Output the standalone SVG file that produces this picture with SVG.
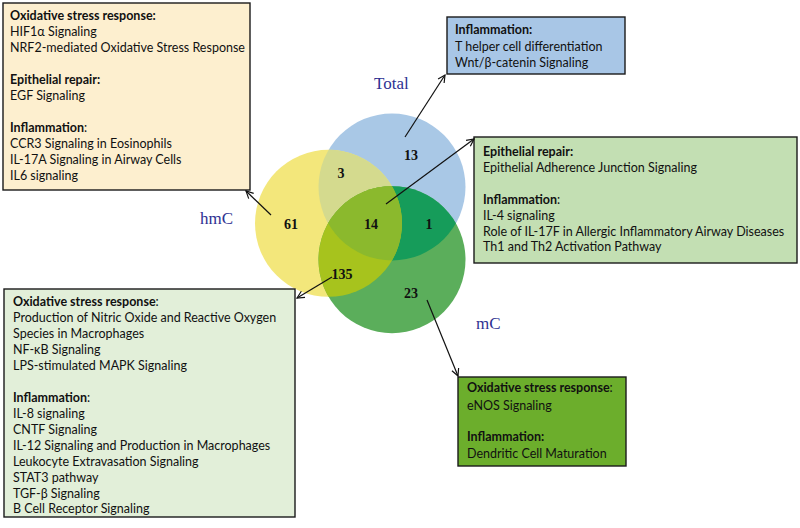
<svg xmlns="http://www.w3.org/2000/svg" width="800" height="528" viewBox="0 0 800 528">
<style>
.t{font-family:Lato,"Liberation Sans",sans-serif;font-size:12.5px;fill:#111}
.b{font-weight:bold}
.box{stroke:#1a1a1a;stroke-width:1.4}
.num{font-family:"Liberation Serif",serif;font-size:14px;font-weight:bold;fill:#111;text-anchor:middle}
.lab{font-family:"Liberation Serif",serif;font-size:17px;fill:#2e3192}
.con{stroke:#111;stroke-width:1.2;fill:none;marker-end:url(#ah)}
</style>
<defs>
<marker id="ah" viewBox="0 0 10 10" refX="9" refY="5" markerWidth="9" markerHeight="9" markerUnits="userSpaceOnUse" orient="auto">
<path d="M1,1 L9,5 L1,9" fill="none" stroke="#111" stroke-width="1.3"/>
</marker>
<clipPath id="cBlue"><circle cx="392" cy="187" r="73.5"/></clipPath>
<clipPath id="cYellow"><circle cx="328.5" cy="223.3" r="73.5"/></clipPath>
</defs>
<rect width="800" height="528" fill="#fff"/>

<g id="venn">
<circle cx="392" cy="187" r="73.5" fill="#a9c8e6"/>
<circle cx="328.5" cy="223.3" r="73.5" fill="#f3e77b"/>
<circle cx="392" cy="259.7" r="73.5" fill="#5bae5b"/>
<circle cx="328.5" cy="223.3" r="73.5" fill="#d4da8e" clip-path="url(#cBlue)"/>
<circle cx="392" cy="259.7" r="73.5" fill="#169c5a" clip-path="url(#cBlue)"/>
<circle cx="392" cy="259.7" r="73.5" fill="#a7c31d" clip-path="url(#cYellow)"/>
<g clip-path="url(#cBlue)"><circle cx="392" cy="259.7" r="73.5" fill="#8bb92d" clip-path="url(#cYellow)"/></g>
</g>

<g id="counts">
<text class="num" x="411" y="160">13</text>
<text class="num" x="341" y="178">3</text>
<text class="num" x="291" y="229">61</text>
<text class="num" x="371" y="229">14</text>
<text class="num" x="429" y="229">1</text>
<text class="num" x="342" y="279">135</text>
<text class="num" x="411" y="298">23</text>
</g>

<g id="set-labels">
<text class="lab" x="374" y="89">Total</text>
<text class="lab" x="200" y="224">hmC</text>
<text class="lab" x="476" y="329">mC</text>
</g>

<g id="box-hmC">
<rect class="box" x="3" y="3" width="247" height="187" fill="#fdefcf"/>
<text class="t" x="10"><tspan class="b" x="10" y="20">Oxidative stress response:</tspan><tspan x="10" y="36">HIF1α Signaling</tspan><tspan x="10" y="52">NRF2-mediated Oxidative Stress Response</tspan><tspan class="b" x="10" y="84">Epithelial repair:</tspan><tspan x="10" y="100">EGF Signaling</tspan><tspan class="b" x="10" y="132">Inflammation</tspan><tspan>:</tspan><tspan x="10" y="148">CCR3 Signaling in Eosinophils</tspan><tspan x="10" y="164">IL-17A Signaling in Airway Cells</tspan><tspan x="10" y="180">IL6 signaling</tspan></text>
</g>

<g id="box-total">
<rect class="box" x="447" y="17" width="178" height="57" fill="#a8c6e6"/>
<text class="t"><tspan class="b" x="455" y="34">Inflammation:</tspan><tspan x="455" y="51">T helper cell differentiation</tspan><tspan x="455" y="67">Wnt/β-catenin Signaling</tspan></text>
</g>

<g id="box-all">
<rect class="box" x="474" y="137" width="323" height="126" fill="#c3dfb3"/>
<text class="t"><tspan class="b" x="483" y="156">Epithelial repair:</tspan><tspan x="483" y="172">Epithelial Adherence Junction Signaling</tspan><tspan class="b" x="483" y="204">Inflammation</tspan><tspan>:</tspan><tspan x="483" y="220">IL-4 signaling</tspan><tspan x="483" y="236">Role of IL-17F in Allergic Inflammatory Airway Diseases</tspan><tspan x="483" y="251">Th1 and Th2 Activation Pathway</tspan></text>
</g>

<g id="box-hmC-mC">
<rect class="box" x="4" y="289" width="291" height="228" fill="#e2efd9"/>
<text class="t"><tspan class="b" x="13" y="306">Oxidative stress response</tspan><tspan>:</tspan><tspan x="13" y="322">Production of Nitric Oxide and Reactive Oxygen</tspan><tspan x="13" y="338">Species in Macrophages</tspan><tspan x="13" y="354">NF-κB Signaling</tspan><tspan x="13" y="370">LPS-stimulated MAPK Signaling</tspan><tspan class="b" x="13" y="402">Inflammation</tspan><tspan>:</tspan><tspan x="13" y="418">IL-8 signaling</tspan><tspan x="13" y="434">CNTF Signaling</tspan><tspan x="13" y="450">IL-12 Signaling and Production in Macrophages</tspan><tspan x="13" y="466">Leukocyte Extravasation Signaling</tspan><tspan x="13" y="482">STAT3 pathway</tspan><tspan x="13" y="498">TGF-β Signaling</tspan><tspan x="13" y="513">B Cell Receptor Signaling</tspan></text>
</g>

<g id="box-mC">
<rect class="box" x="458" y="377" width="168" height="89" fill="#6cae2c"/>
<text class="t"><tspan class="b" x="467" y="392">Oxidative stress response</tspan><tspan>:</tspan><tspan x="467" y="410">eNOS Signaling</tspan><tspan class="b" x="467" y="441">Inflammation:</tspan><tspan x="467" y="458">Dendritic Cell Maturation</tspan></text>
</g>

<g id="connectors">
<line class="con" x1="271" y1="215" x2="246" y2="191"/>
<line class="con" x1="405" y1="137" x2="445" y2="75"/>
<line class="con" x1="386" y1="204" x2="474" y2="139"/>
<line class="con" x1="332" y1="277" x2="297" y2="298"/>
<line class="con" x1="427" y1="300" x2="458" y2="376"/>
</g>
</svg>
